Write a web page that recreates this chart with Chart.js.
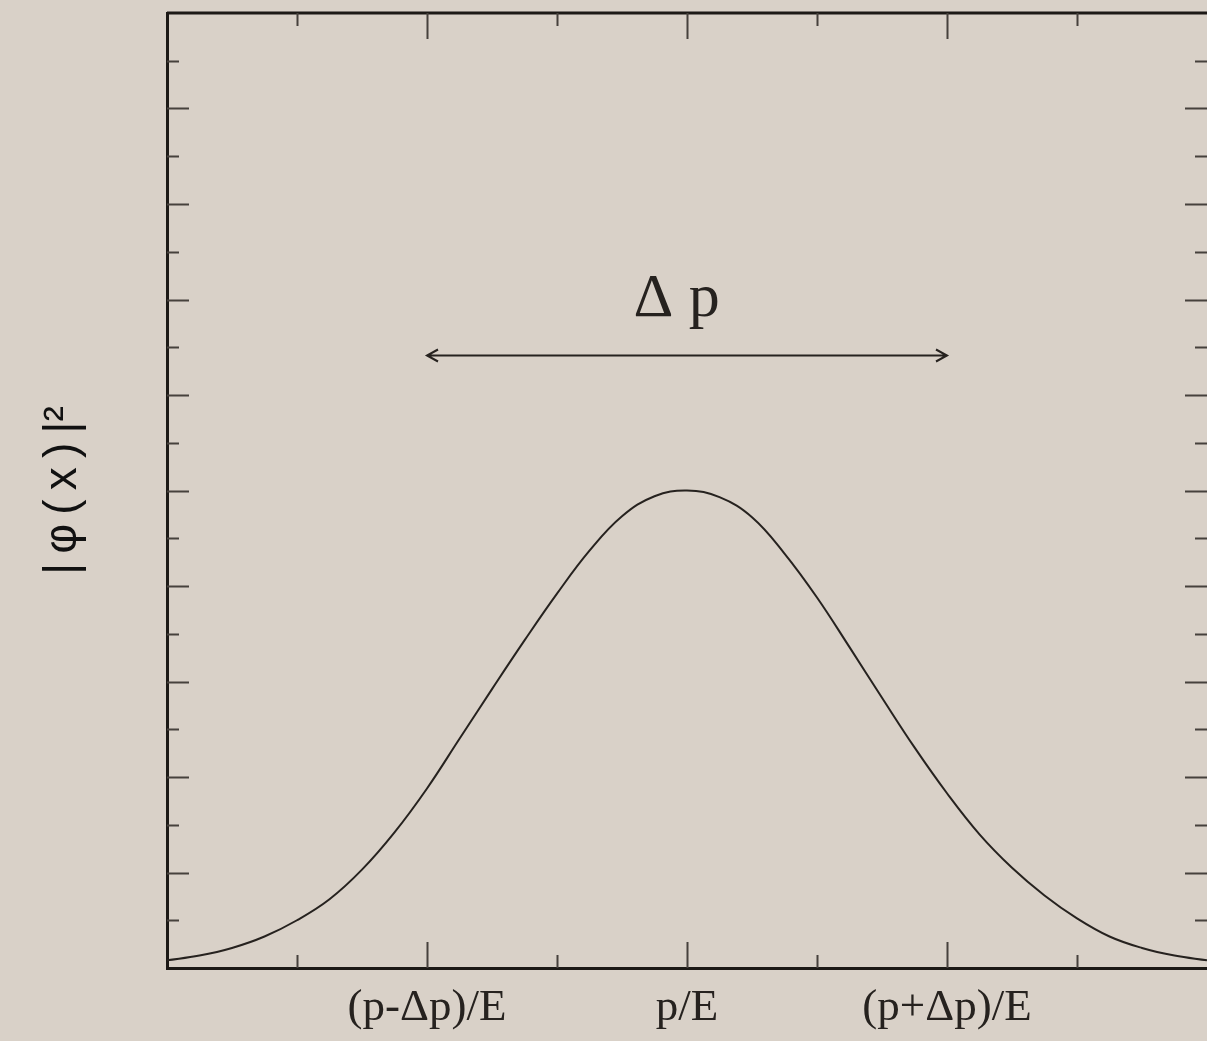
<!DOCTYPE html>
<html>
<head>
<meta charset="utf-8">
<script src="https://cdn.jsdelivr.net/npm/chart.js@4.4.1/dist/chart.umd.min.js"></script>
<style>
    html, body { margin: 0; padding: 0; background: #d9d1c8; overflow: hidden; }
    canvas { display: block; }
</style>
</head>
<body>
<canvas id="chart" width="1207" height="1041"></canvas>
<script>
// wave packet curve (x in units of 0.25)
const xs = [-4, -3.75, -3.5, -3.25, -3, -2.75, -2.5, -2.25, -2, -1.75, -1.5, -1.25, -1, -0.75, -0.5, -0.25,
    0, 0.25, 0.5, 0.75, 1, 1.25, 1.5, 1.75, 2, 2.25, 2.5, 2.75, 3, 3.25, 3.5, 3.75, 4]
const ys = [0.08, 0.13, 0.21, 0.33, 0.50, 0.72, 1.03, 1.42, 1.88, 2.40, 2.92, 3.43, 3.92, 4.37, 4.73, 4.94,
    5.00, 4.93, 4.72, 4.34, 3.88, 3.36, 2.83, 2.31, 1.83, 1.40, 1.05, 0.76, 0.52, 0.33, 0.21, 0.13, 0.08]

const xTickValues = [-2, 0, 2]
const xTickLabels = ['(p-Δp)/E', 'p/E', '(p+Δp)/E']
const yTitle = '|\u2009φ\u2009(\u2009x\u2009)\u2009|²'

// the Δp spread marker
const spreadFrom = -2
const spreadTo = 2
const spreadLevel = 6.42
const spreadLabel = 'Δ p'
const spreadLabelX = -0.08
const spreadLabelLevel = 6.83

const bgColor = '#d9d1c8'
const inkColor = '#26221f'
const frameColor = '#1c1916'
const tickColor = '#46413c'

const marks = {
    id: 'marks',
    beforeDraw(chart) {
        const ctx = chart.ctx
        ctx.save()
        ctx.fillStyle = bgColor
        ctx.fillRect(0, 0, chart.width, chart.height)
        ctx.restore()
    },
    afterDraw(chart) {
        const {ctx, chartArea: a, scales: {x, y}} = chart
        ctx.save()

        // top frame line
        ctx.strokeStyle = frameColor
        ctx.lineWidth = 3
        ctx.beginPath()
        ctx.moveTo(a.left, a.top)
        ctx.lineTo(a.right, a.top)
        ctx.stroke()

        // ticks point inward, long ones on the major values
        ctx.strokeStyle = tickColor
        ctx.lineWidth = 2
        x.ticks.forEach(t => {
            if (t.value <= x.min || t.value >= x.max) return
            const px = Math.round(x.getPixelForValue(t.value)) + 0.5
            const len = t.value % 2 === 0 ? 26 : 13
            ctx.beginPath()
            ctx.moveTo(px, a.bottom)
            ctx.lineTo(px, a.bottom - len)
            ctx.moveTo(px, a.top)
            ctx.lineTo(px, a.top + len)
            ctx.stroke()
        })
        y.ticks.forEach(t => {
            if (t.value <= y.min || t.value >= y.max) return
            const py = Math.round(y.getPixelForValue(t.value)) + 0.5
            const len = Number.isInteger(t.value) ? 22 : 12
            ctx.beginPath()
            ctx.moveTo(a.left, py)
            ctx.lineTo(a.left + len, py)
            ctx.moveTo(a.right, py)
            ctx.lineTo(a.right - len, py)
            ctx.stroke()
        })

        // double arrow for the spread
        const x0 = x.getPixelForValue(spreadFrom)
        const x1 = x.getPixelForValue(spreadTo)
        const ya = Math.round(y.getPixelForValue(spreadLevel)) + 0.5
        ctx.strokeStyle = inkColor
        ctx.lineWidth = 2
        ctx.beginPath()
        ctx.moveTo(x0, ya)
        ctx.lineTo(x1, ya)
        ctx.moveTo(x0 + 11, ya - 6)
        ctx.lineTo(x0, ya)
        ctx.lineTo(x0 + 11, ya + 6)
        ctx.moveTo(x1 - 11, ya - 6)
        ctx.lineTo(x1, ya)
        ctx.lineTo(x1 - 11, ya + 6)
        ctx.stroke()

        ctx.fillStyle = inkColor
        ctx.font = '62px "Liberation Serif", serif'
        ctx.textAlign = 'center'
        ctx.textBaseline = 'alphabetic'
        ctx.fillText(spreadLabel, x.getPixelForValue(spreadLabelX), y.getPixelForValue(spreadLabelLevel))

        ctx.restore()
    }
}

const config = {
    type: 'line',
    data: {
        datasets: [{
            data: xs.map((v, i) => ({x: v, y: ys[i]})),
            borderColor: inkColor,
            borderWidth: 2,
            pointRadius: 0,
            tension: 0.4,
            fill: false,
        }]
    },
    options: {
        responsive: false,
        animation: false,
        devicePixelRatio: 1,
        layout: {
            autoPadding: false,
            padding: {top: 13, right: 0, bottom: 0, left: 0}
        },
        plugins: {
            legend: {display: false},
            tooltip: {enabled: false},
        },
        scales: {
            x: {
                type: 'linear',
                min: -4,
                max: 4,
                grid: {display: false, drawTicks: false},
                border: {color: frameColor, width: 3},
                ticks: {
                    stepSize: 1,
                    autoSkip: false,
                    maxRotation: 0,
                    padding: 13,
                    color: inkColor,
                    font: {family: '"Liberation Serif", serif', size: 45},
                    callback: v => {
                        const i = xTickValues.indexOf(v)
                        return i < 0 ? '' : xTickLabels[i]
                    }
                },
                afterFit: s => {
                    // plot box runs to the right edge of the page
                    s.height = 73
                    s.paddingLeft = 0
                    s.paddingRight = 0
                }
            },
            y: {
                min: 0,
                max: 10,
                grid: {display: false, drawTicks: false},
                border: {color: frameColor, width: 3},
                ticks: {display: false, stepSize: 0.5},
                title: {
                    display: true,
                    text: yTitle,
                    color: '#111',
                    font: {family: '"Liberation Sans", Arial, sans-serif', size: 46},
                    padding: {top: 36, bottom: 0}
                },
                afterFit: s => { s.width = 167 }
            }
        }
    },
    plugins: [marks]
}

let myChart = new Chart(document.getElementById('chart'), config)
</script>
</body>
</html>
